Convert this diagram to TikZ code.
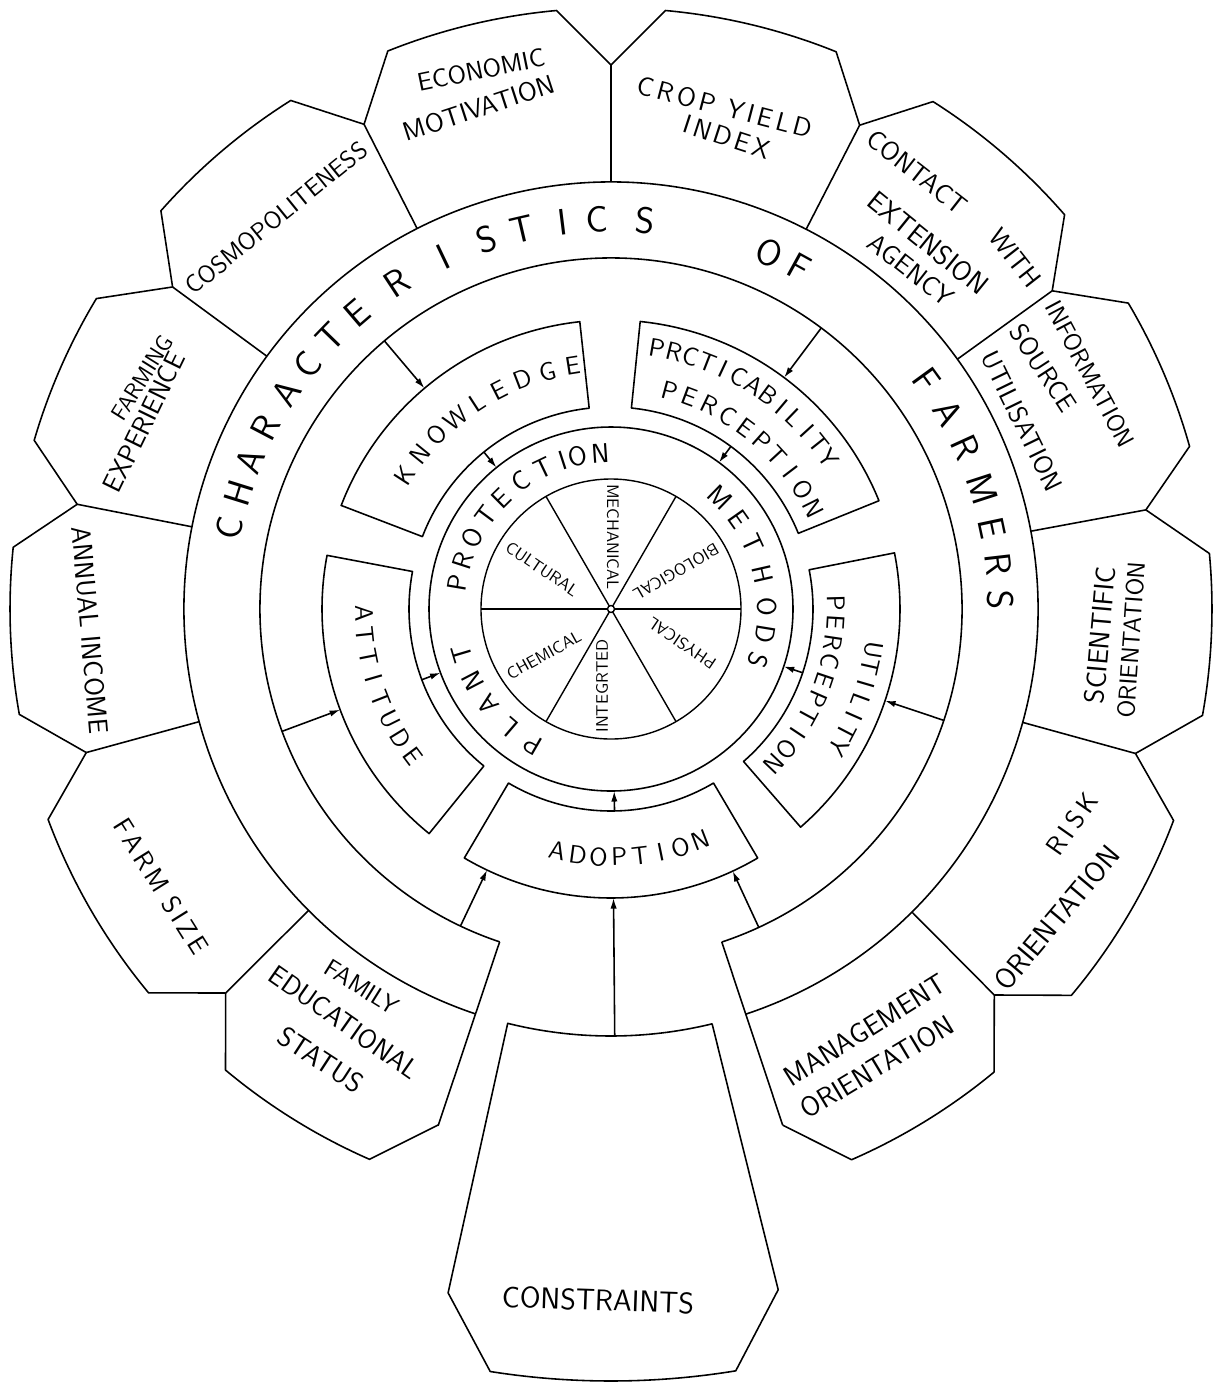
\documentclass[tikz,border=0pt]{standalone}
\usetikzlibrary{arrows.meta}
\newcommand{\arcword}[4]{\foreach \ch/\ang [count=\k] in {#4}{\node[rotate=\ang#3, inner sep=0pt] (#1\k) at (\ang:#2) {\ch};}}
\newcommand{\fs}[1]{\fontsize{#1}{#1}\selectfont}
\begin{document}
\begin{tikzpicture}[x=0.02cm,y=0.02cm,line width=0.9pt,line join=round,
  arr/.style={-{Latex[length=6pt,width=3.6pt]}},
  pt/.style={font=\sffamily\fs{15}, inner sep=0pt},
  sect/.style={font=\sffamily\fs{9.5}, inner sep=0pt}]
\useasboundingbox (0,0) rectangle (1215,-1384);
\coordinate (C) at (611,-609);
\begin{scope}[shift={(611,-609)}]
% inner sector circle
\draw[line width=0.8pt] (0,0) circle[radius=130];
\foreach \a/\b in {0/180,60/240,120/300} \draw[line width=0.8pt] (\a:130) -- (\b:130);
\draw[line width=0.8pt,fill=white] (0,0) circle[radius=3.5];
\draw (0,0) circle[radius=182];
% middle boxes
\foreach \a/\b in {96.2/159, 22/84.2, -49/11.2, 239.5/300.5, 169.3/231}
  \draw (\a:202) arc[start angle=\a, end angle=\b, radius=202] -- (\b:289) arc[start angle=\b, end angle=\a, radius=289] -- cycle;
% characteristics ring
\draw (-71.6:351) arc[start angle=-71.6, end angle=251.5, radius=351];
\draw (-71.6:427) arc[start angle=-71.6, end angle=251.5, radius=427];
\draw (-71.6:351) -- (-71.6:544);
\draw (251.5:351) -- (251.5:545);
\foreach \b in {224.9,195.3,168.9,143.7,117,90,62.8,35.8,10.5,-15.4,-45.2}
  \draw (\b:427) -- (\b:544);
% petal outlines
\foreach \a/\b/\c/\d in {-71.6/-66.4/-50.4/-45.2, -45.2/-40.0/-20.6/-15.4, -15.4/-10.2/5.3/10.5,
  10.5/15.7/30.6/35.8, 35.8/41.0/57.6/62.8, 62.8/68.0/84.8/90, 90/95.2/111.8/117,
  117/122.2/138.5/143.7, 143.7/148.9/163.7/168.9, 168.9/174.1/190.1/195.3,
  195.3/200.5/219.7/224.9, 224.9/230.1/246.3/251.5}
  \draw (\a:544) -- (\b:601) arc[start angle=\b, end angle=\c, radius=601] -- (\d:544);
% constraints
\draw (-104:427) arc[start angle=-104, end angle=-76.3, radius=427] -- (-76.2:701) -- (-80.7:772)
  arc[start angle=-80.7, end angle=-99, radius=772] -- (-103.4:703) -- cycle;
% arrows
\foreach \n/\a/\r/\s in {kn1/130.2/351/289, kn2/129/202/182, pr1/53.2/351/289, pr2/53.6/202/182,
  ut1/-18.5/351/289, ut2/-18.4/202/182, at1/200.4/351/289, at2/200.5/202/182,
  ad2/271/202/182, fa/244.6/351/289, mg/294.9/351/289, co/270.5/427/289}
  {\coordinate (\n-s) at (\a:\r); \coordinate (\n-e) at (\a:\s); \draw[arr] (\n-s) -- (\n-e);}
% ring texts
\begin{scope}[font=\sffamily\fs{21}]
\arcword{cf}{390}{-90}{C/168, H/162.7, A/157.7, R/152.3, A/146.3, C/141.2, T/135.9, E/130.6, R/123.3, I/115.5, S/108.6, T/103.1, I/97.1, C/92.1, S/85, O/66, F/61.2, F/36, A/30.2, R/24.5, M/18, E/12, R/6.6, S/1.3}
\end{scope}
\begin{scope}[font=\sffamily\fs{15.5}]
\arcword{pp}{156}{-90}{P/240, L/229.4, A/217.8, N/207.6, T/196.6, P/170.4, R/162, O/152.9, T/143.3, E/134.7, C/125.2, T/115.6, I/108, O/102.3, N/94, M/45.8, E/35.2, T/24.8, H/12.7, O/0.8, D/-9.3, S/-19.3}
\end{scope}
\begin{scope}[font=\sffamily\fs{14.5}]
\arcword{kn}{246}{-90}{K/147, N/141, O/135, W/129, L/123, E/117, D/111, G/105, E/99}
\arcword{pa}{265}{-90}{P/80, R/76.23, C/72.46, T/68.69, I/64.92, C/61.15, A/57.38, B/53.61, I/49.84, L/46.07, I/42.3, T/38.53, Y/34.76}
\arcword{pb}{226}{-90}{P/75, E/69.61, R/64.22, C/58.83, E/53.44, P/48.05, T/42.66, I/37.27, O/31.88, N/26.49}
\arcword{ua}{266}{-90}{U/-8.9, T/-12.63, I/-16.36, L/-20.09, I/-23.82, T/-27.55, Y/-31.28}
\arcword{ub}{225}{-90}{P/1.5, E/-3.51, R/-8.52, C/-13.53, E/-18.54, P/-23.55, T/-28.56, I/-33.57, O/-38.58, N/-43.59}
\arcword{att}{247}{+90}{A/181, T/186.09, T/191.18, I/196.27, T/201.36, U/206.45, D/211.54, E/216.63}
\arcword{ado}{248}{+90}{A/257.5, D/262.31, O/267.12, P/271.93, T/276.74, I/281.55, O/286.36, N/291.17}
\end{scope}
\end{scope}
% sector labels
\node[sect, rotate=-90] (mech) at (613,-537) {MECHANICAL};
\node[sect, rotate=210] (bio) at (676,-572) {BIOLOGICAL};
\node[sect, rotate=146] (phy) at (682,-643) {PHYSICAL};
\node[sect, rotate=-34] (cul) at (542,-569) {CULTURAL};
\node[sect, rotate=29] (che) at (544,-655) {CHEMICAL};
\node[sect, rotate=90] (integ) at (602,-686) {INTEGRTED};
% petal labels
\node[pt, font=\sffamily\fs{14.5}, rotate=11.5] (econ1) at (481,-70) {ECONOMIC};
\node[pt, rotate=18] (econ2) at (479,-108) {MOTIVATION};
\node[pt, rotate=-14.7] (crop1) at (725,-107) {C\kern2.2pt R\kern2.2pt O\kern2.2pt P\kern7pt Y\kern2.2pt I\kern2.2pt E\kern2.2pt L\kern2.2pt D};
\node[pt, rotate=-18] (crop2) at (727,-137) {I\kern2pt N\kern2pt D\kern2pt E\kern2pt X};
\node[pt, rotate=-38] (cont1) at (917,-172) {CONTACT};
\node[pt, rotate=-52] (cont2) at (1015,-258) {WITH};
\node[pt, font=\sffamily\fs{16}, rotate=-39] (cont3) at (928,-243) {EXTENSION};
\node[pt, rotate=-38] (cont4) at (911,-270) {AGENCY};
\node[pt, font=\sffamily\fs{14}, rotate=-62] (info1) at (1090,-374) {INFORMATION};
\node[pt, rotate=-57] (info2) at (1043,-368) {SOURCE};
\node[pt, font=\sffamily\fs{14.8}, rotate=-64] (info3) at (1022,-421) {UTILISATION};
\node[pt, font=\sffamily\fs{16}, rotate=85] (sci1) at (1100,-635) {SCIENTIFIC};
\node[pt, font=\sffamily\fs{14}, rotate=86] (sci2) at (1131,-640) {ORIENTATION};
\node[pt, rotate=55] (risk1) at (1072,-824) {R\kern2.5pt I\kern2.5pt S\kern2.5pt K};
\node[pt, font=\sffamily\fs{16.5}, rotate=50] (risk2) at (1057,-918) {ORIENTATION};
\node[pt, font=\sffamily\fs{16}, rotate=32] (mgmt1) at (865,-1030) {MANAGEMENT};
\node[pt, font=\sffamily\fs{16}, rotate=31] (mgmt2) at (877,-1067) {ORIENTATION};
\node[pt, font=\sffamily\fs{14}, rotate=-32] (fam1) at (362,-987) {FAMILY};
\node[pt, font=\sffamily\fs{15.6}, rotate=-35] (fam2) at (344,-1022) {EDUCATIONAL};
\node[pt, font=\sffamily\fs{16}, rotate=-33] (fam3) at (321,-1060) {STATUS};
\node[pt, rotate=-58] (farm) at (161,-886) {F\kern2pt A\kern2pt R\kern2pt M\kern6pt S\kern2pt I\kern2pt Z\kern2pt E};
\node[pt, font=\sffamily\fs{15.5}, rotate=-85] (ann) at (90,-630) {ANNUAL INCOME};
\node[pt, font=\sffamily\fs{13}, rotate=58] (exp1) at (142,-378) {FARMING};
\node[pt, font=\sffamily\fs{15.5}, rotate=64] (exp2) at (144,-422) {EXPERIENCE};
\node[pt, font=\sffamily\fs{14}, rotate=39] (cosmo) at (276,-218) {COSMOPOLITENESS};
\node[pt, font=\sffamily\fs{17}, rotate=-2] (cons) at (598,-1300) {CONSTRAINTS};
\end{tikzpicture}
\end{document}
